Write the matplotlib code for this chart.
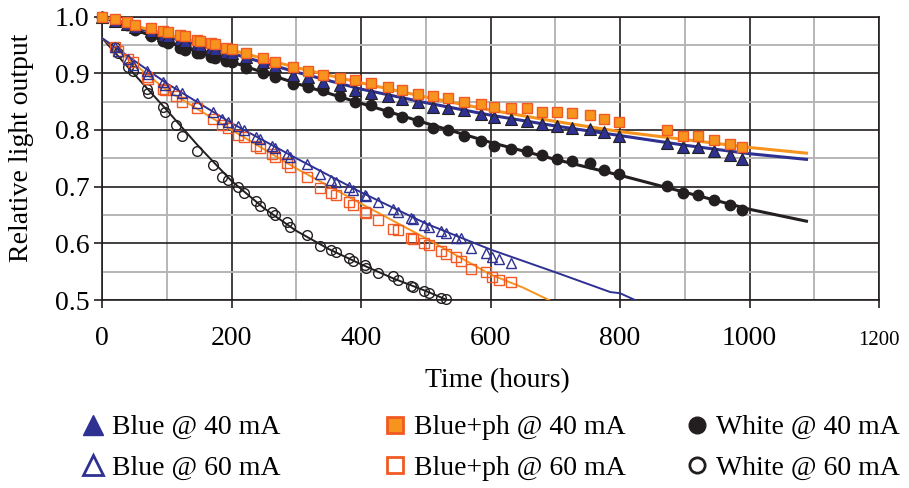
import numpy as np
import matplotlib
matplotlib.use('Agg')
from matplotlib import pyplot as plt
from matplotlib.lines import Line2D

plt.rcParams['font.family'] = ['Liberation Serif', 'DejaVu Serif']

NAVY = '#2E3192'
ORANGE = '#F7941D'
ORANGE_EDGE = '#F15A24'
BLACK = '#231F20'

# measured points, 40 mA (hours)
t40 = [0, 20, 38, 51, 76, 94, 102, 120, 128, 146, 151, 169, 174, 192, 200, 223, 249, 267,
       295, 318, 341, 367, 390, 416, 441, 464, 488, 511, 534, 559, 586, 606, 631, 657, 679,
       703, 726, 753, 775, 799, 872, 898, 921, 945, 970, 989]
white40 = [1.0, 0.992, 0.985, 0.977, 0.966, 0.956, 0.953, 0.944, 0.941, 0.936, 0.935, 0.929,
           0.926, 0.922, 0.919, 0.909, 0.900, 0.893, 0.881, 0.876, 0.870, 0.860, 0.849, 0.844,
           0.831, 0.822, 0.816, 0.803, 0.799, 0.789, 0.780, 0.772, 0.766, 0.763, 0.756, 0.749,
           0.746, 0.741, 0.729, 0.722, 0.701, 0.688, 0.685, 0.676, 0.668, 0.659]
blue40 = [1.0, 0.992, 0.986, 0.981, 0.974, 0.968, 0.966, 0.960, 0.957, 0.951, 0.950, 0.945,
          0.943, 0.938, 0.936, 0.928, 0.920, 0.913, 0.897, 0.893, 0.885, 0.879, 0.870, 0.865,
          0.859, 0.854, 0.850, 0.841, 0.839, 0.835, 0.828, 0.823, 0.819, 0.816, 0.810, 0.807,
          0.803, 0.801, 0.796, 0.789, 0.777, 0.770, 0.770, 0.763, 0.756, 0.749]
blueph40 = [1.0, 0.995, 0.990, 0.985, 0.980, 0.975, 0.972, 0.967, 0.965, 0.958, 0.956, 0.953,
            0.951, 0.944, 0.942, 0.935, 0.927, 0.920, 0.911, 0.903, 0.897, 0.891, 0.888, 0.882,
            0.876, 0.870, 0.864, 0.859, 0.857, 0.850, 0.845, 0.840, 0.838, 0.838, 0.831, 0.831,
            0.829, 0.826, 0.820, 0.814, 0.800, 0.789, 0.789, 0.782, 0.775, 0.770]

# measured points, 60 mA (white stops at 531 h)
t60 = [20, 25, 40, 48, 69, 71, 94, 97, 115, 124, 147, 172, 186, 194, 210, 219, 238, 244, 262,
       267, 285, 290, 316, 336, 354, 362, 381, 388, 406, 408, 426, 450, 457, 477, 481, 498,
       505, 523, 531, 547, 555, 570, 593, 603, 613, 631]
white60 = [0.947, 0.935, 0.911, 0.903, 0.873, 0.865, 0.841, 0.832, 0.809, 0.789, 0.763, 0.738,
           0.717, 0.712, 0.699, 0.689, 0.675, 0.666, 0.656, 0.650, 0.638, 0.629, 0.615, 0.596,
           0.588, 0.584, 0.574, 0.569, 0.561, 0.556, 0.548, 0.542, 0.535, 0.525, 0.523, 0.516,
           0.513, 0.504, 0.501]
blue60 = [0.947, 0.940, 0.925, 0.915, 0.903, 0.898, 0.885, 0.880, 0.870, 0.865, 0.847, 0.832,
          0.820, 0.814, 0.806, 0.800, 0.788, 0.784, 0.771, 0.768, 0.757, 0.753, 0.740, 0.723,
          0.712, 0.708, 0.700, 0.694, 0.685, 0.684, 0.673, 0.660, 0.656, 0.645, 0.642, 0.632,
          0.629, 0.621, 0.618, 0.609, 0.609, 0.591, 0.583, 0.576, 0.572, 0.566]
blueph60 = [0.947, 0.940, 0.925, 0.920, 0.894, 0.890, 0.873, 0.870, 0.860, 0.850, 0.838, 0.820,
            0.808, 0.803, 0.791, 0.788, 0.772, 0.768, 0.757, 0.753, 0.741, 0.735, 0.717, 0.697,
            0.688, 0.685, 0.673, 0.668, 0.656, 0.653, 0.641, 0.626, 0.623, 0.610, 0.608, 0.600,
            0.597, 0.586, 0.582, 0.576, 0.569, 0.554, 0.549, 0.541, 0.535, 0.532]

# trend lines
tl40 = [0, 100, 200, 300, 400, 500, 600, 700, 800, 900, 1000, 1088]
fit_blueph40 = [1.0, 0.968, 0.941, 0.910, 0.883, 0.858, 0.835, 0.815, 0.797, 0.783, 0.769, 0.759]
fit_blue40 = [1.0, 0.964, 0.935, 0.902, 0.872, 0.848, 0.826, 0.807, 0.790, 0.773, 0.758, 0.748]
fit_white40 = [1.0, 0.955, 0.920, 0.882, 0.847, 0.812, 0.778, 0.748, 0.720, 0.690, 0.660, 0.639]

tl_white60 = [0, 50, 100, 150, 200, 250, 300, 350, 400, 450, 500, 535]
fit_white60 = [0.962, 0.898, 0.835, 0.770, 0.710, 0.662, 0.622, 0.590, 0.563, 0.538, 0.516, 0.499]
tl_blue60 = [0, 100, 200, 300, 400, 500, 600, 700, 785, 800, 825]
fit_blue60 = [0.962, 0.882, 0.812, 0.750, 0.690, 0.635, 0.589, 0.549, 0.514, 0.512, 0.499]
tl_blueph60 = [0, 100, 200, 300, 400, 500, 600, 650, 692]
fit_blueph60 = [0.962, 0.870, 0.800, 0.732, 0.670, 0.609, 0.545, 0.522, 0.499]

x_ticks = [0, 200, 400, 600, 800, 1000, 1200]
y_ticks = [0.5, 0.6, 0.7, 0.8, 0.9, 1.0]
labels = ['Blue @ 40 mA', 'Blue @ 60 mA', 'Blue+ph @ 40 mA', 'Blue+ph @ 60 mA',
          'White @ 40 mA', 'White @ 60 mA']

fig = plt.figure(figsize=(9.09, 4.88), dpi=100)
ax = fig.add_axes([102 / 909, 1 - 300 / 488, 777 / 909, 283.5 / 488])

# lines
ax.plot(tl_white60, fit_white60, color=BLACK, lw=1.4, zorder=3)
ax.plot(tl_blueph60, fit_blueph60, color=ORANGE, lw=1.4, zorder=3)
ax.plot(tl_blue60, fit_blue60, color=NAVY, lw=1.4, zorder=3)
ax.plot(tl40, fit_white40, color=BLACK, lw=2.2, zorder=3)
ax.plot(tl40, fit_blue40, color=NAVY, lw=2.2, zorder=3)
ax.plot(tl40, fit_blueph40, color=ORANGE, lw=2.2, zorder=3)

# markers
ax.plot(t60[:len(white60)], white60, ls='none', marker='o', ms=7, mfc='none', mec=BLACK,
        mew=1.0, clip_on=False, zorder=4)
ax.plot(t60, blueph60, ls='none', marker='s', ms=7, mfc='none', mec=ORANGE_EDGE,
        mew=1.0, clip_on=False, zorder=4)
ax.plot(t60, blue60, ls='none', marker='^', ms=7.5, mfc='none', mec=NAVY,
        mew=1.0, clip_on=False, zorder=4)
ax.plot(t40, white40, ls='none', marker='o', ms=7.5, mfc=BLACK, mec=BLACK,
        clip_on=False, zorder=4)
ax.plot(t40, blue40, ls='none', marker='^', ms=8.5, mfc=NAVY, mec=BLACK, mew=0.8,
        clip_on=False, zorder=4)
ax.plot(t40, blueph40, ls='none', marker='s', ms=7.5, mfc=ORANGE, mec=ORANGE_EDGE, mew=1.0,
        clip_on=False, zorder=5)

ax.set_xlim(0, 1200)
ax.set_ylim(0.5, 1.0)
ax.set_xticks(x_ticks)
ax.set_xticklabels([str(v) if v < 1200 else '' for v in x_ticks])
ax.set_xticks(np.arange(100, 1200, 200), minor=True)
ax.set_yticks(y_ticks)
ax.set_yticklabels(['%.1f' % v for v in y_ticks])
ax.set_yticks(np.arange(0.55, 1.0, 0.1), minor=True)
ax.grid(which='major', color=BLACK, lw=1.2)
ax.grid(which='minor', color='#B5B5B5', lw=1.4)
ax.set_axisbelow(True)
ax.tick_params(which='major', length=6, width=1.2, color=BLACK, labelsize=20)
ax.tick_params(axis='x', pad=13)
ax.tick_params(axis='y', pad=3)
ax.tick_params(which='minor', length=0)
# the last tick label is set in a smaller size in the original
ax.annotate(str(x_ticks[-1]), xy=(x_ticks[-1], 0.5), xytext=(0, -29), textcoords='offset points',
            ha='center', va='center', fontsize=15, annotation_clip=False)
for s in ax.spines.values():
    s.set_color(BLACK)
    s.set_linewidth(1.2)

fig.text(22 / 909, 1 - 148 / 488, 'Relative light output', rotation=90,
         ha='center', va='center', fontsize=20)
fig.text(497 / 909, 1 - 381 / 488, 'Time (hours)', ha='center', va='center', fontsize=20)

# legend, three columns
handles = [
    Line2D([], [], ls='none', marker='^', ms=15, mfc=NAVY, mec=NAVY),
    Line2D([], [], ls='none', marker='^', ms=14, mfc='white', mec=NAVY, mew=2),
    Line2D([], [], ls='none', marker='s', ms=12, mfc=ORANGE, mec=ORANGE_EDGE, mew=2),
    Line2D([], [], ls='none', marker='s', ms=12, mfc='white', mec=ORANGE_EDGE, mew=2),
    Line2D([], [], ls='none', marker='o', ms=12, mfc=BLACK, mec=BLACK),
    Line2D([], [], ls='none', marker='o', ms=11, mfc='white', mec=BLACK, mew=2),
]
col_x = [93, 395, 697]
for i, mx in enumerate(col_x):
    fig.legend(handles=handles[2 * i:2 * i + 2], labels=labels[2 * i:2 * i + 2],
               loc='center left', bbox_to_anchor=((mx - 11) / 909, 1 - 448 / 488),
               frameon=False, fontsize=20, handlelength=0.8, handletextpad=0.27,
               borderpad=0, borderaxespad=0, labelspacing=0.55, numpoints=1)

plt.savefig('out.png', dpi=100)
